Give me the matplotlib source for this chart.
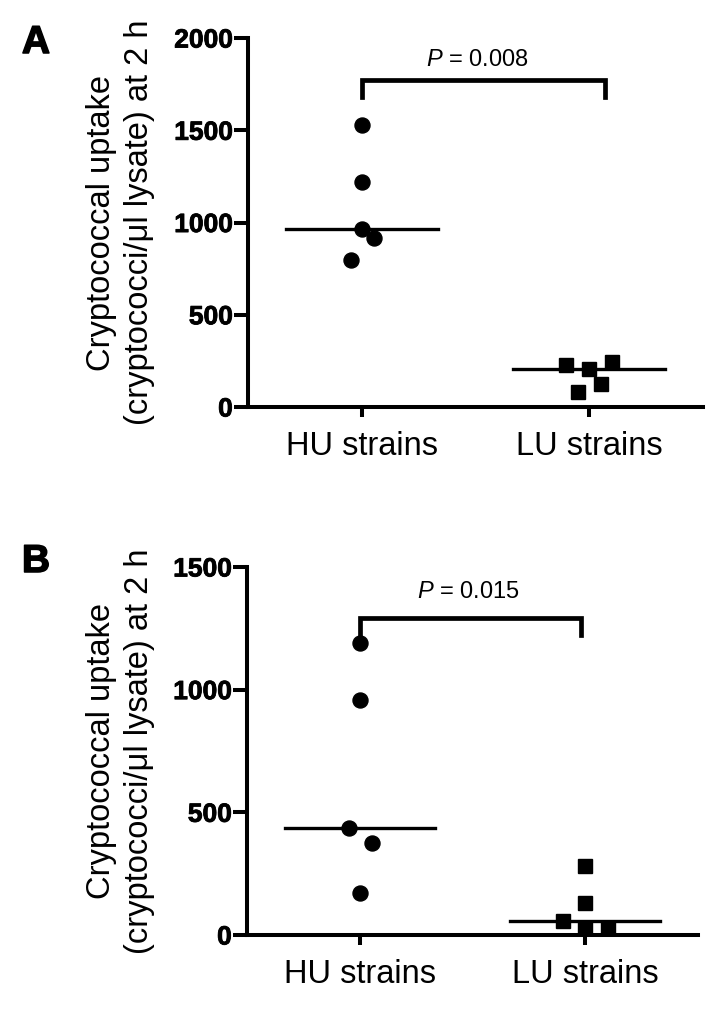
import matplotlib.pyplot as plt
import matplotlib.patheffects as pe

plt.rcParams['font.family'] = ['Liberation Sans', 'DejaVu Sans']
plt.rcParams['mathtext.fontset'] = 'custom'
plt.rcParams['mathtext.it'] = 'Liberation Sans:italic'
plt.rcParams['mathtext.rm'] = 'Liberation Sans'

# data
groups = ["HU strains", "LU strains"]

a_hu = [1528, 1220, 965, 916, 797]
a_lu = [228, 206, 244, 81, 125]
b_hu = [1190, 958, 436, 375, 171]
b_lu = [281, 130, 57, 28, 28]

a_median = [965, 206]
b_median = [436, 57]

a_p = "$P$ = 0.008"
b_p = "$P$ = 0.015"

# horizontal spread of the dots (like Prism's scatter layout)
a_hu_dx = [0, 0, 0, 0.053, -0.048]
a_lu_dx = [-0.10, 0, 0.10, -0.05, 0.05]
b_hu_dx = [0, 0, -0.049, 0.053, 0]
b_lu_dx = [0, 0, -0.10, 0, 0.10]

ylabel = "Cryptococcal uptake\n(cryptococci/\u03bcl lysate) at 2 h"

fig = plt.figure(figsize=(7.26, 10.26), dpi=100)
axA = fig.add_axes([0.3416, 0.6033, 0.6267, 0.3596])
axB = fig.add_axes([0.3402, 0.0887, 0.6212, 0.3587])


def panel(ax, hu, lu, hu_dx, lu_dx, med, ymax, step, ptxt, br_x, br_y, br_drop, txt_x, txt_y):
    ax.plot([0 + d for d in hu_dx], hu, 'o', color='black', markersize=10.8, clip_on=False)
    ax.plot([1 + d for d in lu_dx], lu, 's', color='black', markersize=10.5, clip_on=False)
    for i, m in enumerate(med):
        ax.plot([i - 0.333, i + 0.333], [m, m], color='black', lw=2.4)
    ax.set_xlim(-0.5, 1.5)
    ax.set_ylim(0, ymax)
    ax.set_yticks(range(0, ymax + 1, step))
    ax.set_xticks([0, 1])
    ax.set_xticklabels(groups, fontsize=23.5)
    for lbl in ax.get_yticklabels():
        lbl.set_fontweight('bold')
        lbl.set_fontsize(19)
        lbl.set_path_effects([pe.withStroke(linewidth=0.6, foreground='black')])
    for s in ['top', 'right']:
        ax.spines[s].set_visible(False)
    for s in ['left', 'bottom']:
        ax.spines[s].set_linewidth(2.9)
    ax.tick_params(axis='y', length=10, width=2.9, pad=1)
    ax.tick_params(axis='x', length=7, width=2.9, pad=10)
    # significance bracket
    ax.plot([br_x[0], br_x[0], br_x[1], br_x[1]],
            [br_drop, br_y, br_y, br_drop], color='black', lw=3.4,
            solid_joinstyle='miter', clip_on=False)
    ax.text(txt_x, txt_y, ptxt, ha='center', va='center', fontsize=17)
    ax.text(-0.281, 0.5, ylabel, transform=ax.transAxes, rotation=90,
            ha='center', va='center', multialignment='center',
            fontsize=23.5, linespacing=1.3)


panel(axA, a_hu, a_lu, a_hu_dx, a_lu_dx, a_median, 2000, 500, a_p,
      (0, 1.07), 1772, 1680, 0.51, 1881)
panel(axB, b_hu, b_lu, b_hu_dx, b_lu_dx, b_median, 1500, 500, b_p,
      (0, 0.98), 1292, 1223, 0.48, 1398)

heavy = [pe.withStroke(linewidth=1.1, foreground='black')]
fig.text(36 / 726, 1 - 43 / 1026, "A", fontsize=28, fontweight='bold',
         ha='center', va='center', path_effects=heavy)
fig.text(36 / 726, 1 - 562 / 1026, "B", fontsize=28, fontweight='bold',
         ha='center', va='center', path_effects=heavy)

fig.savefig("out.png", dpi=100)
